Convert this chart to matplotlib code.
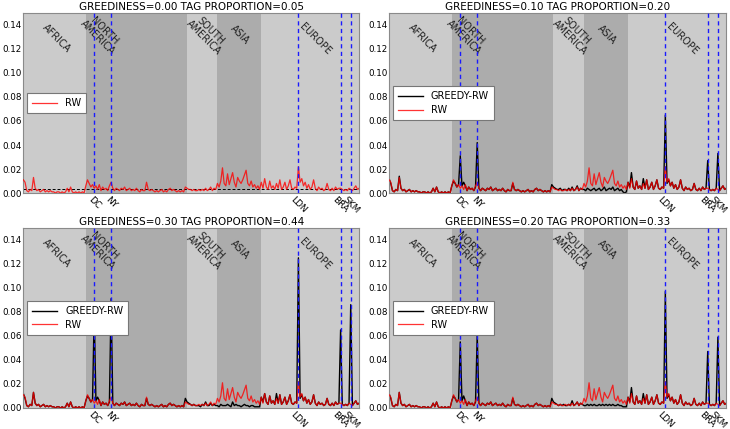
#!/usr/bin/env python3
"""Visit distribution of RW vs GREEDY-RW walkers over cities, one panel per greediness."""

import matplotlib
matplotlib.use("Agg")
import matplotlib.pyplot as plt
import numpy as np

# x axis: city index, cities grouped by continent
N_CITIES = 200
REGION_NAMES = ["AFRICA", "NORTH\nAMERICA", "SOUTH\nAMERICA", "ASIA", "EUROPE"]
REGION_STARTS = [0, 37, 97, 115, 141]
CITY_LABELS = ["DC", "NY", "LDN", "BRA", "SKM"]
CITY_INDEX = [42, 52, 163, 188, 194]

# uniform reference level shown in the first panel
UNIFORM_LEVEL = 0.0035

# visit frequency of the plain random walk (same in every panel)
RW = [
    0.011, 0.009, 0.002, 0.001, 0.003, 0.002, 0.013, 0.004, 0.002, 0.003,
    0.001, 0.002, 0.003, 0.001, 0.002, 0.001, 0.002, 0.001, 0.001, 0.000,
    0.001, 0.001, 0.000, 0.001, 0.000, 0.001, 0.004, 0.001, 0.005, 0.001,
    0.000, 0.001, 0.000, 0.001, 0.000, 0.001, 0.000, 0.006, 0.011, 0.008,
    0.005, 0.007, 0.004, 0.006, 0.003, 0.007, 0.002, 0.005, 0.003, 0.004,
    0.002, 0.006, 0.009, 0.004, 0.002, 0.004, 0.003, 0.002, 0.004, 0.003,
    0.005, 0.002, 0.003, 0.004, 0.002, 0.003, 0.002, 0.004, 0.002, 0.001,
    0.003, 0.002, 0.002, 0.009, 0.003, 0.002, 0.003, 0.002, 0.001, 0.002,
    0.001, 0.002, 0.003, 0.001, 0.002, 0.001, 0.003, 0.004, 0.002, 0.003,
    0.002, 0.001, 0.002, 0.001, 0.002, 0.001, 0.005, 0.004, 0.003, 0.003,
    0.002, 0.003, 0.002, 0.002, 0.003, 0.002, 0.003, 0.002, 0.004, 0.002,
    0.003, 0.005, 0.002, 0.004, 0.003, 0.008, 0.005, 0.010, 0.021, 0.008,
    0.006, 0.016, 0.007, 0.012, 0.017, 0.009, 0.005, 0.013, 0.010, 0.008,
    0.011, 0.015, 0.019, 0.008, 0.006, 0.010, 0.005, 0.007, 0.004, 0.006,
    0.003, 0.009, 0.004, 0.012, 0.005, 0.003, 0.010, 0.004, 0.006, 0.003,
    0.008, 0.004, 0.011, 0.003, 0.005, 0.009, 0.003, 0.006, 0.011, 0.004,
    0.003, 0.005, 0.004, 0.022, 0.009, 0.012, 0.006, 0.009, 0.004, 0.007,
    0.003, 0.005, 0.011, 0.004, 0.002, 0.005, 0.003, 0.004, 0.002, 0.003,
    0.008, 0.003, 0.002, 0.004, 0.002, 0.005, 0.003, 0.004, 0.004, 0.003,
    0.002, 0.003, 0.002, 0.004, 0.003, 0.002, 0.004, 0.006, 0.003, 0.004,
]

GREEDY_010 = [
    0.012, 0.008, 0.002, 0.001, 0.003, 0.002, 0.014, 0.004, 0.002, 0.003,
    0.001, 0.002, 0.003, 0.001, 0.002, 0.001, 0.002, 0.001, 0.001, 0.000,
    0.001, 0.001, 0.000, 0.001, 0.000, 0.001, 0.004, 0.001, 0.005, 0.001,
    0.000, 0.001, 0.000, 0.001, 0.000, 0.001, 0.000, 0.006, 0.010, 0.008,
    0.005, 0.007, 0.031, 0.006, 0.009, 0.006, 0.002, 0.005, 0.003, 0.004,
    0.002, 0.005, 0.042, 0.004, 0.002, 0.004, 0.003, 0.002, 0.004, 0.003,
    0.005, 0.002, 0.003, 0.004, 0.002, 0.003, 0.002, 0.004, 0.002, 0.001,
    0.003, 0.002, 0.002, 0.008, 0.003, 0.002, 0.003, 0.002, 0.001, 0.002,
    0.001, 0.002, 0.003, 0.001, 0.002, 0.001, 0.003, 0.004, 0.002, 0.003,
    0.002, 0.001, 0.002, 0.001, 0.002, 0.001, 0.007, 0.005, 0.004, 0.003,
    0.003, 0.004, 0.002, 0.003, 0.003, 0.002, 0.004, 0.002, 0.005, 0.002,
    0.003, 0.006, 0.002, 0.004, 0.003, 0.003, 0.002, 0.004, 0.003, 0.002,
    0.003, 0.004, 0.002, 0.003, 0.004, 0.002, 0.003, 0.005, 0.002, 0.003,
    0.004, 0.003, 0.005, 0.002, 0.003, 0.004, 0.002, 0.003, 0.001, 0.000,
    0.001, 0.009, 0.005, 0.017, 0.005, 0.003, 0.010, 0.004, 0.006, 0.003,
    0.012, 0.004, 0.011, 0.003, 0.005, 0.009, 0.003, 0.006, 0.011, 0.004,
    0.003, 0.005, 0.004, 0.065, 0.008, 0.011, 0.006, 0.009, 0.004, 0.007,
    0.003, 0.005, 0.011, 0.004, 0.002, 0.005, 0.003, 0.004, 0.002, 0.003,
    0.008, 0.003, 0.002, 0.004, 0.002, 0.005, 0.003, 0.004, 0.027, 0.003,
    0.002, 0.003, 0.002, 0.004, 0.033, 0.002, 0.004, 0.006, 0.003, 0.004,
]

GREEDY_020 = [
    0.012, 0.008, 0.002, 0.001, 0.003, 0.002, 0.013, 0.004, 0.002, 0.003,
    0.001, 0.002, 0.003, 0.001, 0.002, 0.001, 0.002, 0.001, 0.001, 0.000,
    0.001, 0.001, 0.000, 0.001, 0.000, 0.001, 0.004, 0.001, 0.005, 0.001,
    0.000, 0.001, 0.000, 0.001, 0.000, 0.001, 0.000, 0.006, 0.010, 0.008,
    0.005, 0.007, 0.055, 0.006, 0.010, 0.006, 0.002, 0.005, 0.003, 0.004,
    0.002, 0.005, 0.061, 0.004, 0.002, 0.004, 0.003, 0.002, 0.004, 0.003,
    0.005, 0.002, 0.003, 0.004, 0.002, 0.003, 0.002, 0.004, 0.002, 0.001,
    0.003, 0.002, 0.002, 0.008, 0.003, 0.002, 0.003, 0.002, 0.001, 0.002,
    0.001, 0.002, 0.003, 0.001, 0.002, 0.001, 0.003, 0.004, 0.002, 0.003,
    0.002, 0.001, 0.002, 0.001, 0.002, 0.001, 0.008, 0.005, 0.004, 0.003,
    0.002, 0.003, 0.002, 0.003, 0.002, 0.002, 0.003, 0.002, 0.006, 0.002,
    0.003, 0.005, 0.002, 0.004, 0.003, 0.002, 0.002, 0.003, 0.002, 0.003,
    0.002, 0.003, 0.002, 0.002, 0.003, 0.002, 0.003, 0.002, 0.003, 0.002,
    0.003, 0.002, 0.003, 0.002, 0.002, 0.003, 0.002, 0.002, 0.001, 0.001,
    0.001, 0.009, 0.005, 0.017, 0.005, 0.003, 0.010, 0.004, 0.006, 0.003,
    0.012, 0.004, 0.011, 0.003, 0.005, 0.009, 0.003, 0.006, 0.011, 0.004,
    0.003, 0.005, 0.004, 0.097, 0.008, 0.011, 0.006, 0.009, 0.004, 0.007,
    0.003, 0.005, 0.011, 0.004, 0.002, 0.005, 0.003, 0.004, 0.002, 0.003,
    0.008, 0.003, 0.002, 0.004, 0.002, 0.005, 0.003, 0.004, 0.047, 0.003,
    0.002, 0.003, 0.002, 0.004, 0.059, 0.002, 0.004, 0.006, 0.003, 0.004,
]

GREEDY_030 = [
    0.012, 0.008, 0.002, 0.001, 0.003, 0.002, 0.013, 0.004, 0.002, 0.003,
    0.001, 0.002, 0.003, 0.001, 0.002, 0.001, 0.002, 0.001, 0.001, 0.000,
    0.001, 0.001, 0.000, 0.001, 0.000, 0.001, 0.004, 0.001, 0.005, 0.001,
    0.000, 0.001, 0.000, 0.001, 0.000, 0.001, 0.000, 0.006, 0.010, 0.008,
    0.005, 0.007, 0.080, 0.006, 0.009, 0.006, 0.002, 0.005, 0.003, 0.004,
    0.002, 0.005, 0.091, 0.004, 0.002, 0.004, 0.003, 0.002, 0.004, 0.003,
    0.005, 0.002, 0.003, 0.004, 0.002, 0.003, 0.002, 0.004, 0.002, 0.001,
    0.003, 0.002, 0.002, 0.008, 0.003, 0.002, 0.003, 0.002, 0.001, 0.002,
    0.001, 0.002, 0.003, 0.001, 0.002, 0.001, 0.003, 0.004, 0.002, 0.003,
    0.002, 0.001, 0.002, 0.001, 0.002, 0.001, 0.008, 0.005, 0.004, 0.003,
    0.002, 0.003, 0.002, 0.002, 0.002, 0.001, 0.003, 0.002, 0.005, 0.002,
    0.002, 0.004, 0.002, 0.003, 0.002, 0.002, 0.001, 0.003, 0.002, 0.002,
    0.002, 0.003, 0.002, 0.001, 0.005, 0.002, 0.003, 0.002, 0.002, 0.001,
    0.002, 0.003, 0.002, 0.002, 0.001, 0.002, 0.002, 0.001, 0.001, 0.001,
    0.001, 0.009, 0.005, 0.012, 0.005, 0.003, 0.010, 0.004, 0.006, 0.003,
    0.012, 0.004, 0.011, 0.003, 0.005, 0.009, 0.003, 0.006, 0.011, 0.004,
    0.003, 0.005, 0.004, 0.125, 0.008, 0.011, 0.006, 0.009, 0.004, 0.007,
    0.003, 0.005, 0.011, 0.004, 0.002, 0.005, 0.003, 0.004, 0.002, 0.003,
    0.008, 0.003, 0.002, 0.004, 0.002, 0.005, 0.003, 0.004, 0.065, 0.003,
    0.002, 0.003, 0.002, 0.004, 0.086, 0.002, 0.004, 0.006, 0.003, 0.004,
]

# (greediness, tag proportion, greedy series) per panel, in reading order
PANELS = [
    (0.00, 0.05, None),
    (0.10, 0.20, GREEDY_010),
    (0.30, 0.44, GREEDY_030),
    (0.20, 0.33, GREEDY_020),
]

Y_TICKS = [0.00, 0.02, 0.04, 0.06, 0.08, 0.10, 0.12, 0.14]

LIGHT = "#cbcbcb"
DARK = "#acacac"
REGION_SHADES = [LIGHT, DARK, LIGHT, DARK, LIGHT]
# label anchor (x as fraction of axis, y in data units)
REGION_LABEL_POS = [(0.100, 0.129), (0.232, 0.132), (0.546, 0.132),
                    (0.645, 0.132), (0.868, 0.128)]


def draw_panel(ax, greediness, tag_prop, greedy):
    x = np.arange(N_CITIES)
    x_max = N_CITIES - 1

    ends = REGION_STARTS[1:] + [x_max]
    for start, end, shade in zip(REGION_STARTS, ends, REGION_SHADES):
        ax.axvspan(start, end, facecolor=shade, edgecolor="none", zorder=0)

    for name, (fx, y) in zip(REGION_NAMES, REGION_LABEL_POS):
        ax.text(fx * x_max, y, name, rotation=-45, ha="center", va="center",
                fontsize=7, color="#222222", linespacing=0.95, zorder=1)

    if greedy is not None:
        ax.plot(x, greedy, color="black", lw=1.0, label="GREEDY-RW", zorder=2)
    ax.plot(x, RW, color="red", lw=0.9, alpha=0.8, label="RW", zorder=3)

    if greedy is None:
        ax.axhline(UNIFORM_LEVEL, color="black", lw=0.7, ls="--",
                   dashes=(3, 2), zorder=2)

    for c in CITY_INDEX:
        ax.axvline(c, color="#1a1aff", lw=1.0, ls="--", dashes=(3, 2.5),
                   zorder=4)

    ax.set_xlim(0, x_max)
    ax.set_ylim(0, 0.15)
    ax.set_yticks(Y_TICKS)
    ax.set_yticklabels([f"{v:.2f}" for v in Y_TICKS], fontsize=6.3)
    ax.set_xticks(CITY_INDEX)
    ax.set_xticklabels(CITY_LABELS, rotation=-45, ha="center", va="top",
                       fontsize=6.5)
    ax.tick_params(axis="both", length=0, pad=1.2)
    for s in ax.spines.values():
        s.set_color("#8a8a8a")
        s.set_linewidth(0.8)

    ax.set_title(f"GREEDINESS={greediness:.2f} TAG PROPORTION={tag_prop:.2f}",
                 fontsize=7.5, pad=2)
    leg = ax.legend(loc="center left", fontsize=7, fancybox=False,
                    handlelength=2.6, borderaxespad=0.4, framealpha=1.0,
                    borderpad=0.5, labelspacing=0.4)
    leg.get_frame().set_edgecolor("#777777")
    leg.get_frame().set_linewidth(0.8)
    leg.set_zorder(10)


def main():
    fig = plt.figure(figsize=(7.30, 4.29), dpi=100, facecolor="white")
    boxes = [
        [0.032, 0.550, 0.460, 0.420],
        [0.533, 0.550, 0.462, 0.420],
        [0.032, 0.049, 0.460, 0.420],
        [0.533, 0.049, 0.462, 0.420],
    ]
    for box, (g, t, greedy) in zip(boxes, PANELS):
        ax = fig.add_axes(box)
        draw_panel(ax, g, t, greedy)

    fig.savefig("out.png", dpi=100, facecolor="white")
    plt.close(fig)


if __name__ == "__main__":
    main()
